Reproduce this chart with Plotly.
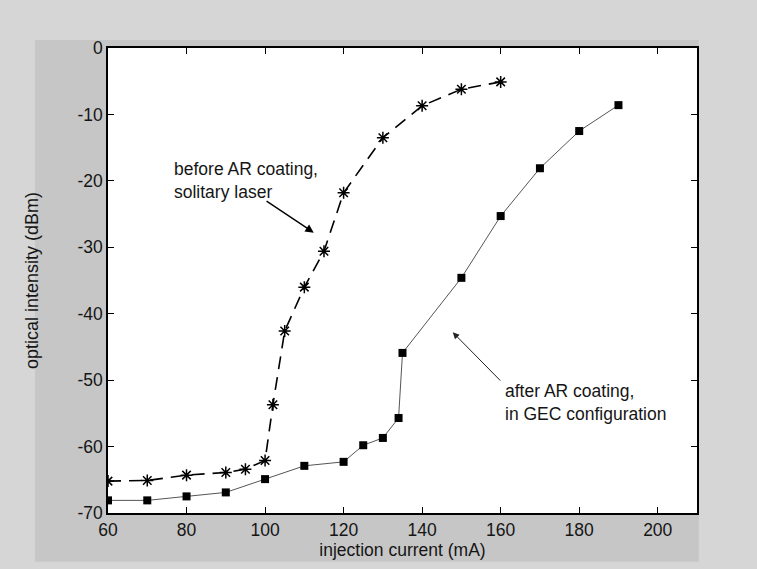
import plotly.graph_objects as go

# data
before_x = [60, 70, 80, 90, 95, 100, 102, 105, 110, 115, 120, 130, 140, 150, 160]
before_y = [-65.2, -65.1, -64.3, -63.9, -63.4, -62.1, -53.7, -42.6, -36.0, -30.6, -21.8, -13.5, -8.7, -6.2, -5.1]

after_x = [60, 70, 80, 90, 100, 110, 120, 125, 130, 134, 135, 150, 160, 170, 180, 190]
after_y = [-68.1, -68.1, -67.5, -66.9, -64.9, -62.9, -62.3, -59.8, -58.7, -55.7, -45.9, -34.6, -25.3, -18.1, -12.5, -8.6]

x_ticks = [60, 80, 100, 120, 140, 160, 180, 200]
y_ticks = [0, -10, -20, -30, -40, -50, -60, -70]
y_tick_text = ["0", "-10", "-20", "-30", "-40", "-50", "-60", "-70"]

FONT = "Liberation Sans, Arial, sans-serif"
TXT = "#151515"

fig = go.Figure()
fig.add_trace(go.Scatter(
    x=after_x, y=after_y, mode="lines+markers",
    line=dict(color="#555555", width=1),
    marker=dict(symbol="square", size=8, color="black"),
    showlegend=False))
fig.add_trace(go.Scatter(
    x=before_x, y=before_y, mode="lines+markers",
    line=dict(color="black", width=1.6, dash="13px,8px"),
    marker=dict(symbol="asterisk-open", size=10, color="black",
                line=dict(color="black", width=1.5)),
    showlegend=False))

axis_common = dict(
    showgrid=False, zeroline=False, showline=True, linecolor="black", linewidth=1.5,
    mirror="ticks", ticks="inside", ticklen=6, tickcolor="black", tickwidth=1,
    tickfont=dict(family=FONT, size=17.5, color=TXT),
)
fig.update_xaxes(range=[60, 210], tickvals=x_ticks, **axis_common,
                 title=dict(text="injection current (mA)", standoff=2,
                            font=dict(family=FONT, size=17.5, color=TXT)))
fig.update_yaxes(range=[-70, 0], tickvals=y_ticks, ticktext=y_tick_text, **axis_common,
                 title=dict(text="optical intensity (dBm)", standoff=34,
                            font=dict(family=FONT, size=18, color=TXT)))

# arrows
fig.add_annotation(x=112.4, y=-27.8, ax=100.0, ay=-22.9, axref="x", ayref="y",
                   xref="x", yref="y", text="", showarrow=True,
                   arrowhead=2, arrowsize=1.2, arrowwidth=1.4, arrowcolor="black")
fig.add_annotation(x=147.8, y=-42.8, ax=160.3, ay=-50.3, axref="x", ayref="y",
                   xref="x", yref="y", text="", showarrow=True,
                   arrowhead=2, arrowsize=1.3, arrowwidth=1.0, arrowcolor="#222222")
# labels
fig.add_annotation(x=76.3, y=-20.0, xref="x", yref="y",
                   text="before AR coating,<br>solitary laser", showarrow=False,
                   align="left", xanchor="left", yanchor="middle",
                   font=dict(family=FONT, size=17.5, color=TXT))
fig.add_annotation(x=160.5, y=-53.4, xref="x", yref="y",
                   text="after AR coating,<br>in GEC configuration", showarrow=False,
                   align="left", xanchor="left", yanchor="middle",
                   font=dict(family=FONT, size=17.5, color=TXT))

# scanned-page look: darker panel behind the axes, white plot area on top
fig.add_shape(type="rect", xref="paper", yref="paper", layer="below",
              x0=-0.124, x1=1.003, y0=-0.105, y1=1.017,
              fillcolor="#c6c6c6", line=dict(width=0))
fig.add_shape(type="rect", xref="paper", yref="paper", layer="below",
              x0=0, x1=1, y0=0, y1=1,
              fillcolor="white", line=dict(width=0))

fig.update_layout(
    width=757, height=569,
    margin=dict(l=108, r=60, t=48, b=56),
    paper_bgcolor="#d6d6d6", plot_bgcolor="white",
)
fig.write_html("out.html")
